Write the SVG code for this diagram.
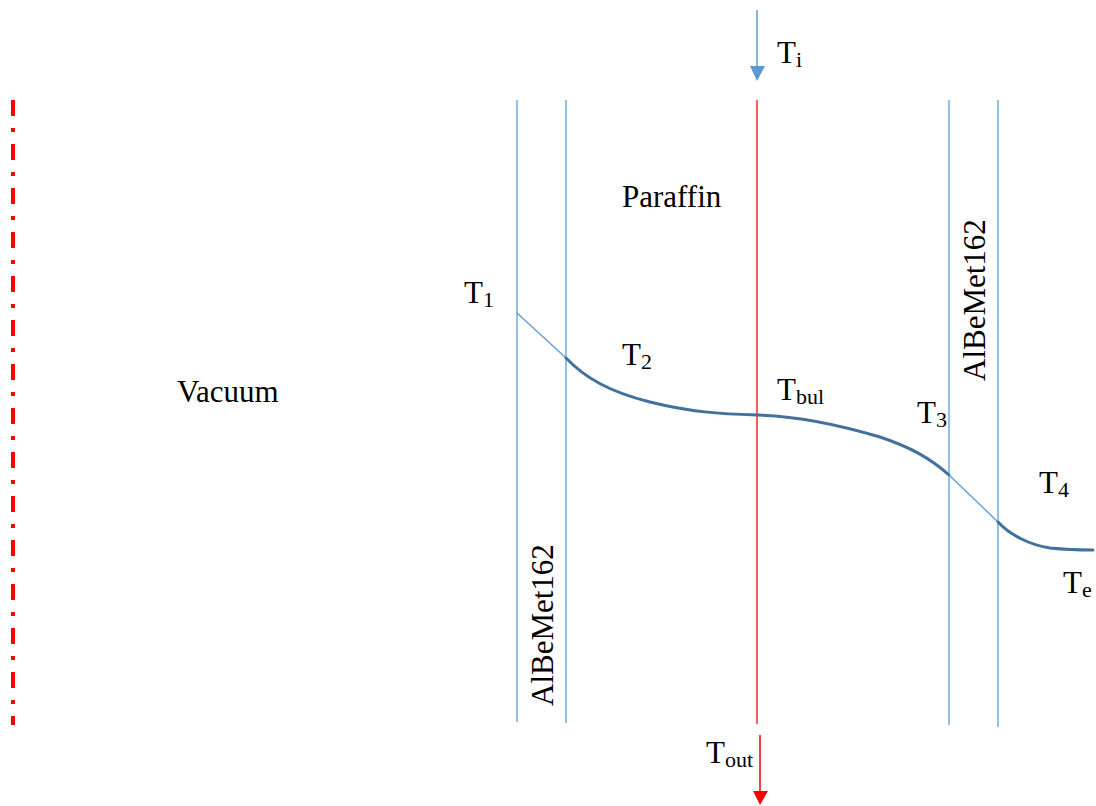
<svg xmlns="http://www.w3.org/2000/svg" width="1096" height="806" viewBox="0 0 1096 806">
<style>
.t{font-family:"Liberation Serif","Times New Roman",serif;font-size:31px;fill:#000}
.s{font-size:22px}
.wall{stroke:#5b9bd5;stroke-width:1.3;fill:none}
.thin{stroke:#5b9bd5;stroke-width:1.3;fill:none}
.thick{stroke:#41719c;stroke-width:3;fill:none;stroke-linecap:round}
</style>
<rect width="1096" height="806" fill="#fff"/>
<g id="axis">
<line x1="13" y1="100" x2="13" y2="725" stroke="#ff0000" stroke-width="4" stroke-dasharray="16 12 4 12"/>
</g>
<g id="walls">
<line class="wall" x1="517" y1="100" x2="517" y2="722"/>
<line class="wall" x1="566" y1="100" x2="566" y2="723"/>
<line class="wall" x1="949" y1="100" x2="949" y2="725"/>
<line class="wall" x1="998" y1="100" x2="998" y2="727"/>
</g>
<g id="connectors">
<line x1="757" y1="100" x2="757" y2="724" stroke="#ff0000" stroke-width="1.3"/>
<line x1="757" y1="10" x2="757" y2="68" stroke="#5b9bd5" stroke-width="1.5"/>
<polygon points="750,66 765,66 757,81" fill="#5b9bd5"/>
<line x1="760" y1="735" x2="760" y2="793" stroke="#ff0000" stroke-width="1.5"/>
<polygon points="753,791 768,791 760,805" fill="#ff0000"/>
</g>
<g id="profile">
<line class="thin" x1="517" y1="313" x2="566" y2="358"/>
<path class="thick" d="M566,358 C585,378 610,392 650,402 C690,412 720,414 757,415 C800,416 840,425 880,437 C910,447 930,458 949,475"/>
<line class="thin" x1="949" y1="475" x2="998" y2="522"/>
<path class="thick" d="M998,522 C1010,535 1030,545 1050,548 C1070,550 1080,550 1093,550"/>
</g>
<g id="labels">
<text class="t" x="177" y="402">Vacuum</text>
<text class="t" x="622" y="207">Paraffin</text>
<text class="t" transform="translate(553,706) rotate(-90)">AlBeMet162</text>
<text class="t" transform="translate(985,381) rotate(-90)">AlBeMet162</text>
<text class="t" x="777" y="63">T<tspan class="s" dy="4">i</tspan></text>
<text class="t" x="706" y="763">T<tspan class="s" dy="4">out</tspan></text>
<text class="t" x="464" y="303">T<tspan class="s" dy="4">1</tspan></text>
<text class="t" x="622" y="365">T<tspan class="s" dy="4">2</tspan></text>
<text class="t" x="777" y="400">T<tspan class="s" dy="4">bul</tspan></text>
<text class="t" x="917" y="423">T<tspan class="s" dy="4">3</tspan></text>
<text class="t" x="1039" y="493">T<tspan class="s" dy="4">4</tspan></text>
<text class="t" x="1063" y="593">T<tspan class="s" dy="4">e</tspan></text>
</g>
</svg>
